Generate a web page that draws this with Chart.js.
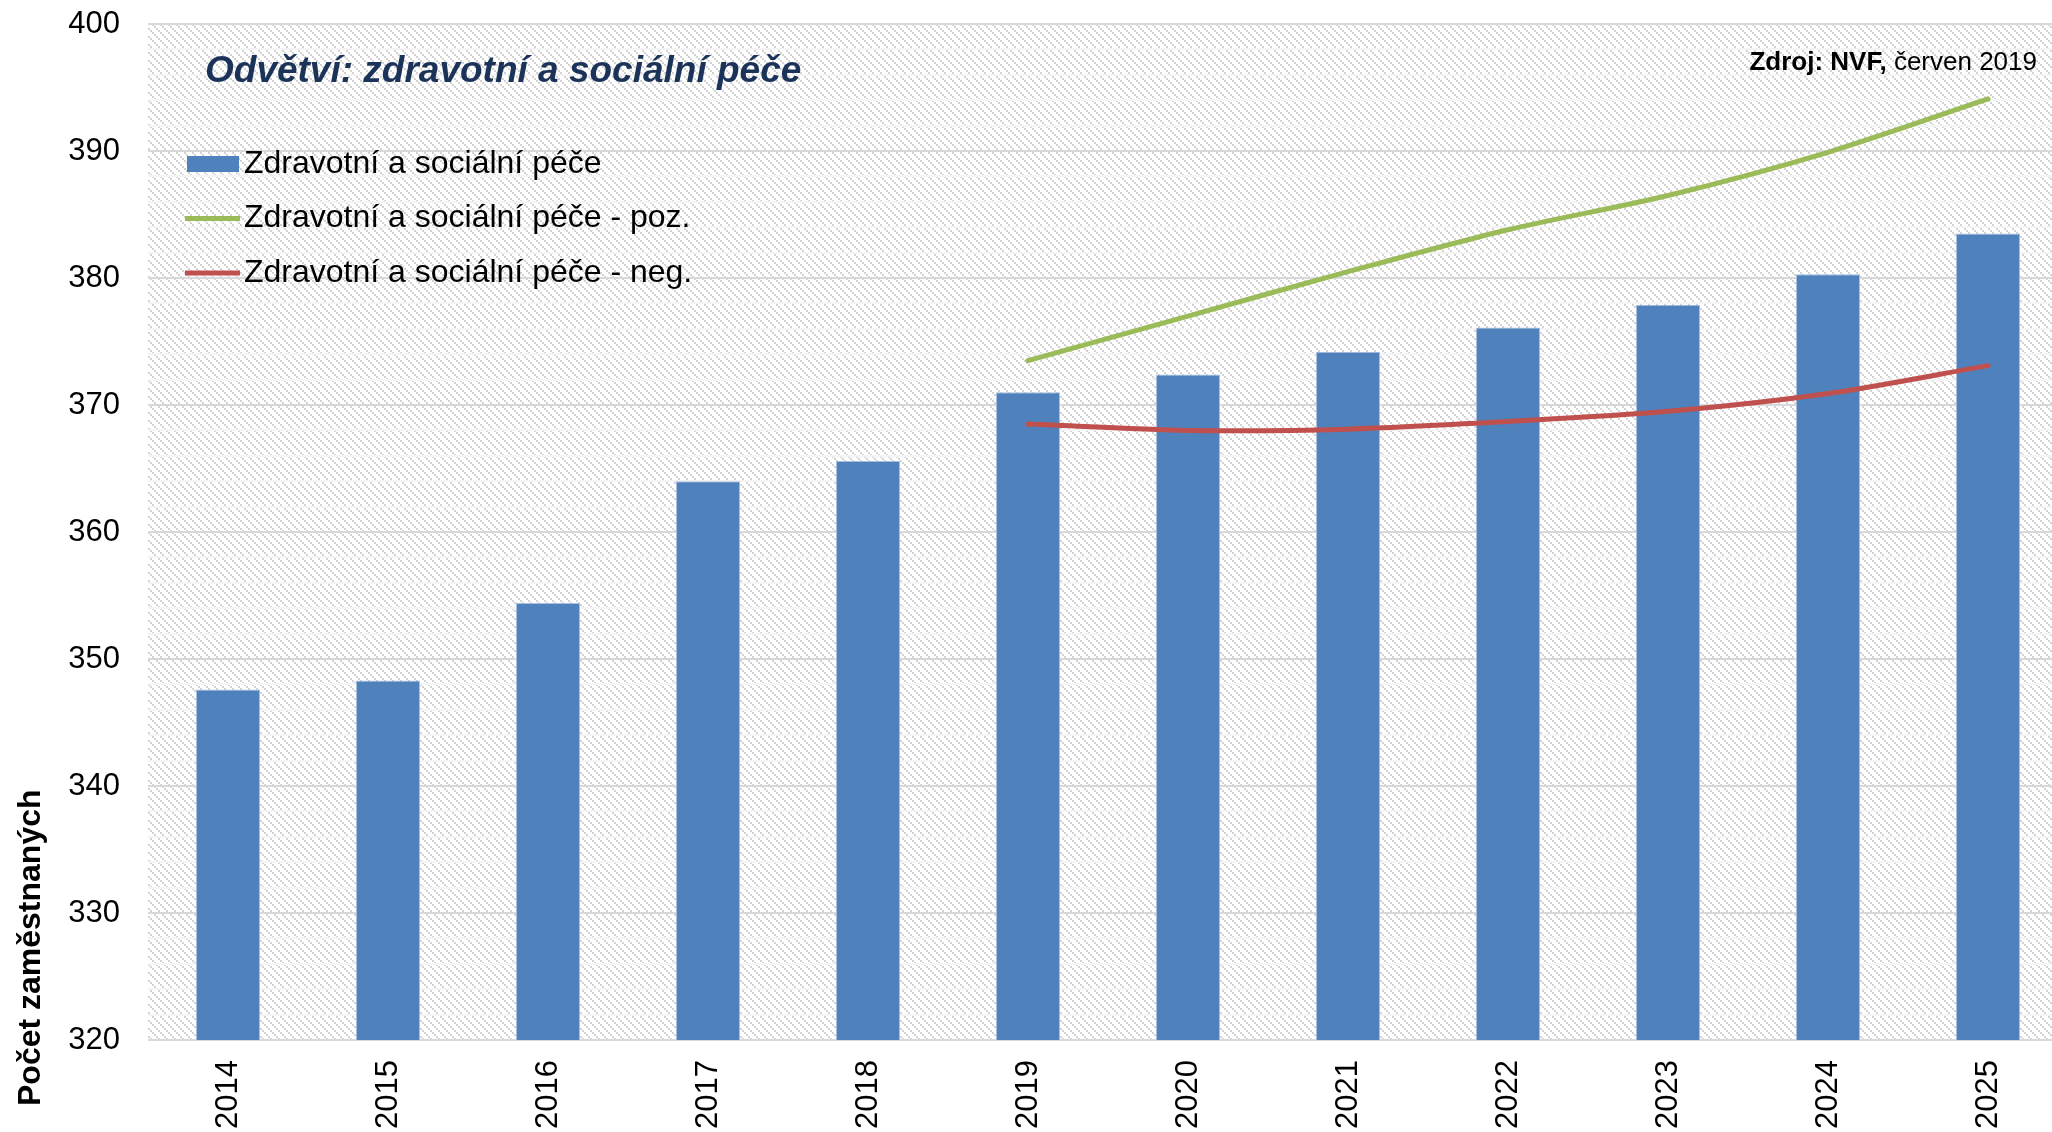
<!DOCTYPE html>
<html lang="cs">
<head>
<meta charset="utf-8">
<script src="https://cdn.jsdelivr.net/npm/chart.js@4"></script>
<style>
  html, body { margin: 0; padding: 0; background: #fff; overflow: hidden; }
  #wrap { width: 2052px; height: 1132px; overflow: hidden; position: relative; }
  #wrap canvas { position: absolute; left: 0; top: 0; }
</style>
</head>
<body>
<div id="wrap"><canvas id="chart" width="2068" height="1132"></canvas></div>
<script>
// data (thousands of employees)
var years = ['2014', '2015', '2016', '2017', '2018', '2019', '2020', '2021', '2022', '2023', '2024', '2025'];
var employed = [347.6, 348.3, 354.4, 364.0, 365.6, 371.0, 372.4, 374.2, 376.1, 377.9, 380.3, 383.5];
var positive = [null, null, null, null, null, 373.5, 377.0, 380.5, 383.8, 386.5, 389.9, 394.1];
var negative = [null, null, null, null, null, 368.5, 368.0, 368.1, 368.7, 369.5, 370.9, 373.1];
var seriesNames = ['Zdravotní a sociální péče', 'Zdravotní a sociální péče - poz.', 'Zdravotní a sociální péče - neg.'];

var FONT = '"Liberation Sans", Arial, sans-serif';

// excel-like "downward diagonal" fill, 2x2 pixel steps
function hatch() {
    var c = document.createElement('canvas');
    c.width = 8; c.height = 8;
    var g = c.getContext('2d');
    g.fillStyle = '#ffffff';
    g.fillRect(0, 0, 8, 8);
    g.fillStyle = '#d3d3d3';
    for (var i = 0; i < 8; i += 2) g.fillRect(i, i, 2, 2);
    return c;
}

var backgroundPlugin = {
    id: 'hatchBg',
    beforeDraw: function(chart) {
        var a = chart.chartArea, ctx = chart.ctx;
        ctx.save();
        ctx.fillStyle = ctx.createPattern(hatch(), 'repeat');
        ctx.fillRect(a.left, a.top, a.right - a.left, a.bottom - a.top);
        ctx.restore();
    }
};

var textPlugin = {
    id: 'texts',
    afterDraw: function(chart) {
        var ctx = chart.ctx;
        ctx.save();

        // title
        ctx.fillStyle = '#1b3358';
        ctx.font = 'italic bold 37px ' + FONT;
        ctx.textAlign = 'left';
        ctx.textBaseline = 'alphabetic';
        ctx.fillText('Odvětví: zdravotní a sociální péče', 205, 82);

        // source
        ctx.fillStyle = '#000';
        ctx.font = '26px ' + FONT;
        var rest = ' červen 2019';
        var wRest = ctx.measureText(rest).width;
        ctx.textAlign = 'right';
        ctx.fillText(rest, 2037, 70);
        ctx.font = 'bold 26px ' + FONT;
        ctx.fillText('Zdroj: NVF,', 2037 - wRest, 70);

        // y axis title
        ctx.save();
        ctx.translate(40, 1106);
        ctx.rotate(-Math.PI / 2);
        ctx.font = 'bold 32px ' + FONT;
        ctx.textAlign = 'left';
        ctx.fillText('Počet zaměstnaných', 0, 0);
        ctx.restore();

        // legend
        ctx.font = '32px ' + FONT;
        ctx.textAlign = 'left';
        ctx.textBaseline = 'middle';
        chart.data.datasets.forEach(function(ds, i) {
            var y = 164 + i * 54.5;
            if (ds.type === 'bar') {
                ctx.fillStyle = ds.backgroundColor;
                ctx.fillRect(187, y - 8, 52, 16);
            } else {
                ctx.strokeStyle = ds.borderColor;
                ctx.lineWidth = 5;
                ctx.beginPath();
                ctx.moveTo(185, y);
                ctx.lineTo(240, y);
                ctx.stroke();
            }
            ctx.fillStyle = '#000';
            ctx.fillText(ds.label, 244, y);
        });
        ctx.restore();
    }
};

var ctx = document.getElementById('chart').getContext('2d');
var chart = new Chart(ctx, {
    data: {
        labels: years,
        datasets: [{
            type: 'bar',
            label: seriesNames[0],
            data: employed,
            backgroundColor: '#4f81bd',
            borderColor: '#a7bfdf',
            borderWidth: 1,
            barPercentage: 1,
            categoryPercentage: 0.4,
            order: 2
        }, {
            type: 'line',
            label: seriesNames[1],
            data: positive,
            borderColor: '#9bbb59',
            backgroundColor: '#9bbb59',
            borderWidth: 5,
            pointRadius: 0,
            tension: 0.3,
            borderCapStyle: 'round',
            fill: false,
            order: 1
        }, {
            type: 'line',
            label: seriesNames[2],
            data: negative,
            borderColor: '#c0504d',
            backgroundColor: '#c0504d',
            borderWidth: 5,
            pointRadius: 0,
            tension: 0.3,
            borderCapStyle: 'round',
            fill: false,
            order: 1
        }]
    },
    options: {
        responsive: false,
        animation: false,
        layout: { padding: { top: 24, left: 0, right: 0, bottom: 0 } },
        plugins: {
            legend: { display: false },
            tooltip: { enabled: false }
        },
        scales: {
            x: {
                offset: true,
                grid: { display: false, drawTicks: false },
                border: { display: false },
                ticks: {
                    color: '#000',
                    font: { family: FONT, size: 31 },
                    minRotation: 90,
                    maxRotation: 90,
                    padding: 20,
                    autoSkip: false
                },
                afterFit: function(scale) { scale.height = 92; }
            },
            y: {
                min: 320,
                max: 400,
                grid: {
                    drawTicks: false,
                    lineWidth: 2,
                    color: function(c) {
                        return c.tick && c.tick.value % 10 === 0 ? '#d9d9d9' : '#f3f3f3';
                    }
                },
                border: { display: false },
                ticks: {
                    stepSize: 2,
                    maxTicksLimit: 100,
                    autoSkip: false,
                    padding: 28,
                    color: '#000',
                    font: { family: FONT, size: 31 },
                    callback: function(v) { return v % 10 === 0 ? v : ''; }
                },
                afterFit: function(scale) {
                    scale.width = 148;
                    scale.paddingTop = 0;
                    scale.paddingBottom = 0;
                }
            }
        }
    },
    plugins: [backgroundPlugin, textPlugin]
});
</script>
</body>
</html>
